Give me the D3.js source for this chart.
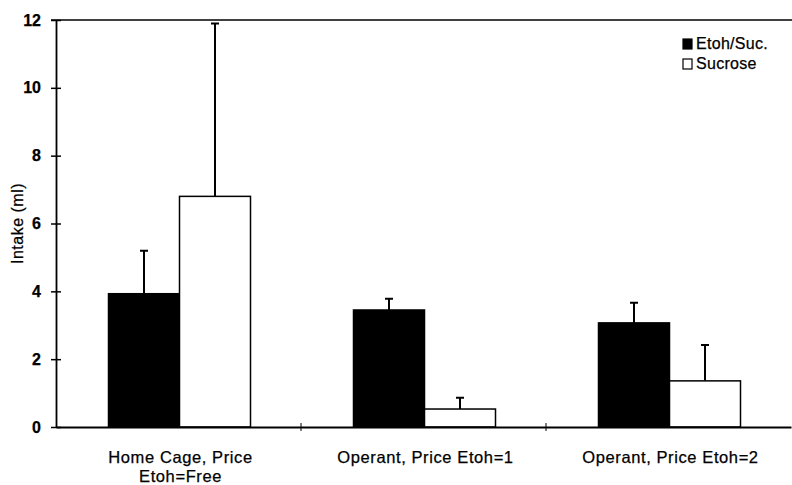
<!DOCTYPE html>
<html>
<head>
<meta charset="utf-8">
<script src="https://cdn.jsdelivr.net/npm/d3@7"></script>
<style>
  body { margin: 0; background: #fff; }
  text { font-family: "Liberation Sans", Arial, sans-serif; fill: #000; stroke: #000; stroke-width: 0.25px; }
</style>
</head>
<body>
<div id="chart"></div>
<script>
// data
let categories = ["Home Cage, Price|Etoh=Free", "Operant, Price Etoh=1", "Operant, Price Etoh=2"];
let series = ["Etoh/Suc.", "Sucrose"];
let etohSuc = [3.93, 3.45, 3.07];
let etohSucErr = [1.27, 0.33, 0.59];
let sucrose = [6.8, 0.53, 1.36];
let sucroseErr = [5.1, 0.33, 1.06];
let yTicks = [0, 2, 4, 6, 8, 10, 12];

let width = 792, height = 485;
let margin = {top: 20, right: 1, bottom: 58, left: 56};

let svg = d3.select('#chart').append('svg')
  .attr('width', width)
  .attr('height', height)

let x = d3.scaleBand()
  .domain(categories)
  .range([margin.left, width - margin.right]);

let y = d3.scaleLinear()
  .domain([0, 12])
  .range([height - margin.bottom, margin.top]);

let colors = d3.scaleOrdinal().domain(series).range(["#000", "#fff"]);

let barW = 71;

let rows = categories.map((c, i) => ({
  cat: c,
  vals: [
    {s: series[0], v: etohSuc[i], e: etohSucErr[i]},
    {s: series[1], v: sucrose[i], e: sucroseErr[i]}
  ]
}));

// top frame line
svg.append('line')
  .attr('x1', margin.left - 5).attr('x2', width)
  .attr('y1', y(12)).attr('y2', y(12))
  .attr('stroke', '#000').attr('stroke-width', 1.5);

// bars
let g = svg.selectAll('.grp')
  .data(rows)
  .enter().append('g').classed('grp', true)
  .attr('transform', d => 'translate(' + (x(d.cat) + x.bandwidth() / 2 + 1) + ',0)');

g.selectAll('.err')
  .data(d => d.vals.map((v, j) => Object.assign({j: j}, v)))
  .enter().append('path').classed('err', true)
  .attr('d', d => {
    let cx = (d.j === 0 ? -barW : 0) + barW / 2;
    return 'M' + cx + ',' + y(d.v) + 'V' + y(d.v + d.e) + 'M' + (cx - 4) + ',' + y(d.v + d.e) + 'H' + (cx + 4);
  })
  .attr('stroke', '#000').attr('stroke-width', 2).attr('fill', 'none');

g.selectAll('.bar')
  .data(d => d.vals.map((v, j) => Object.assign({j: j}, v)))
  .enter().append('rect').classed('bar', true)
  .attr('x', d => d.j === 0 ? -barW : 0)
  .attr('width', barW)
  .attr('y', d => y(d.v))
  .attr('height', d => y(0) - y(d.v))
  .attr('fill', d => colors(d.s))
  .attr('stroke', '#000').attr('stroke-width', 1.5);

// y axis
let yAxis = d3.axisLeft(y).tickValues(yTicks).tickSize(0).tickPadding(15);
let ya = svg.append('g')
  .attr('transform', 'translate(' + margin.left + ',0)')
  .call(yAxis);
ya.select('.domain').attr('stroke-width', 1.8);
ya.selectAll('.tick line').remove();
ya.selectAll('.tick').append('line')
  .attr('x1', -5).attr('x2', 5)
  .attr('stroke', '#000').attr('stroke-width', 1.5);
ya.selectAll('.tick text')
  .attr('font-family', null)
  .attr('font-size', null)
  .style('font-size', '16px').style('font-weight', 'bold');

// x axis
let xa = svg.append('g')
  .attr('transform', 'translate(0,' + y(0) + ')')
  .call(d3.axisBottom(x).tickSize(0).tickFormat(''));
xa.select('.domain').attr('stroke-width', 1.8);
xa.selectAll('.sep')
  .data(categories.slice(1))
  .enter().append('line').classed('sep', true)
  .attr('x1', d => x(d)).attr('x2', d => x(d))
  .attr('y1', -4).attr('y2', 4)
  .attr('stroke', '#000').attr('stroke-width', 1);

let xl = svg.selectAll('.xlab')
  .data(categories)
  .enter().append('text').classed('xlab', true)
  .attr('x', d => x(d) + x.bandwidth() / 2 + 2)
  .attr('y', y(0) + 36)
  .attr('text-anchor', 'middle')
  .style('font-size', '16.5px')
  .style('letter-spacing', '0.6px');
xl.selectAll('tspan')
  .data(d => d.split('|'))
  .enter().append('tspan')
  .attr('x', function() { return d3.select(this.parentNode).attr('x'); })
  .attr('dy', (d, i) => i === 0 ? 0 : 19)
  .text(d => d);

// y title
svg.append('text')
  .attr('transform', 'translate(23,' + ((y(0) + y(12)) / 2) + ') rotate(-90)')
  .attr('text-anchor', 'middle')
  .style('font-size', '16px')
  .style('letter-spacing', '0.5px')
  .text('Intake (ml)');

// legend
let leg = svg.selectAll('.leg')
  .data(series)
  .enter().append('g').classed('leg', true)
  .attr('transform', (d, i) => 'translate(683,' + (39 + i * 20) + ')');
leg.append('rect')
  .attr('width', 9).attr('height', 10)
  .attr('fill', d => colors(d))
  .attr('stroke', '#000').attr('stroke-width', 1.2);
leg.append('text')
  .attr('x', 13).attr('y', 10)
  .style('font-size', '16px')
  .style('letter-spacing', '0.3px')
  .text(d => d);
</script>
</body>
</html>
